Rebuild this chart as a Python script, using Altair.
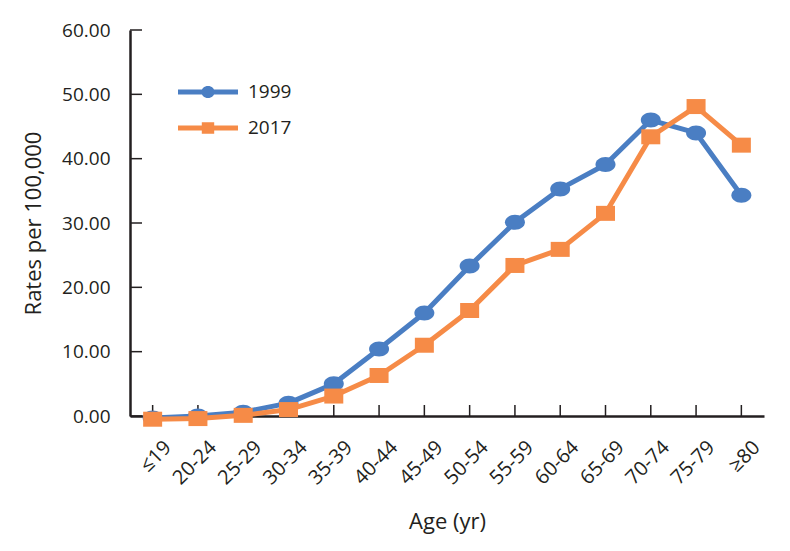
import altair as alt
import pandas as pd

ages = ["≤19", "20-24", "25-29", "30-34", "35-39", "40-44", "45-49",
        "50-54", "55-59", "60-64", "65-69", "70-74", "75-79", "≥80"]
years = ["1999", "2017"]
rates_1999 = [-0.3, 0.0, 0.6, 2.0, 5.0, 10.4, 16.0, 23.3, 30.1, 35.3, 39.1, 46.0, 44.0, 34.3]
rates_2017 = [-0.5, -0.4, 0.1, 1.0, 3.1, 6.3, 11.0, 16.4, 23.4, 25.9, 31.5, 43.4, 48.1, 42.1]
y_ticks = [0, 10, 20, 30, 40, 50, 60]

colors = ["#4A7EC3", "#F68B47"]
marker_paths = [
    "M1,0A1,0.75,0,1,1,-1,0A1,0.75,0,1,1,1,0Z",
    "M-0.95,-0.75L0.95,-0.75L0.95,0.75L-0.95,0.75Z",
]
legend_paths = [
    "M-3,-0.25L3,-0.25L3,0.25L-3,0.25Z M0.67,0A0.67,0.6,0,1,1,-0.67,0A0.67,0.6,0,1,1,0.67,0Z",
    "M-3,-0.25L3,-0.25L3,0.25L-3,0.25Z M-0.62,-0.58L0.62,-0.58L0.62,0.58L-0.62,0.58Z",
]

rows = []
for yr, vals in zip(years, [rates_1999, rates_2017]):
    for a, v in zip(ages, vals):
        rows.append({"age": a, "year": yr, "rate": v})
df = pd.DataFrame(rows)
tick_df = pd.DataFrame({"rate": y_ticks})
age_df = pd.DataFrame({"age": ages})

W, H = 634, 386
FONT = "Open Sans"
TXT = "#231F20"

xs = alt.Scale(type="point", domain=ages, padding=0.5)
ys = alt.Scale(domain=[0, 60], nice=False, zero=False)

x_axis = alt.Axis(title="Age (yr)", labelAngle=-45, labelAlign="right",
                  labelBaseline="middle", ticks=False, labelPadding=28,
                  labelOffset=15, labelFontSize=20, titleFontSize=22,
                  titlePadding=24)
y_axis = alt.Axis(title="Rates per 100,000", values=y_ticks, format=".2f",
                  ticks=False, labelPadding=20, labelFontSize=19,
                  titleFontSize=22, titlePadding=16)

layers = []
for i, yr in enumerate(years):
    base = alt.Chart(df).transform_filter(alt.datum.year == yr)
    layers.append(base.mark_line(color=colors[i], strokeWidth=5, strokeJoin="round").encode(
        x=alt.X("age:N", scale=xs, axis=x_axis),
        y=alt.Y("rate:Q", scale=ys, axis=y_axis),
    ))
    layers.append(base.mark_point(filled=True, opacity=1, color=colors[i],
                                  shape=marker_paths[i], size=400, strokeWidth=0).encode(
        x=alt.X("age:N", scale=xs, axis=x_axis),
        y=alt.Y("rate:Q", scale=ys, axis=y_axis),
    ))

legend = alt.Legend(title=None, orient="none", legendX=68, legendY=52,
                    symbolSize=400, symbolStrokeWidth=0, labelFontSize=19,
                    labelFont=FONT, labelColor=TXT, labelOffset=30,
                    rowPadding=16, padding=0)
legend_layer = alt.Chart(df).transform_filter("false").mark_point(
    filled=True, opacity=1, strokeWidth=0).encode(
    x=alt.X("age:N", scale=xs, axis=x_axis),
    y=alt.Y("rate:Q", scale=ys, axis=y_axis),
    color=alt.Color("year:N", scale=alt.Scale(domain=years, range=colors), legend=legend),
    shape=alt.Shape("year:N", scale=alt.Scale(domain=years, range=legend_paths), legend=legend),
)
layers.append(legend_layer)

ytick_layer = alt.Chart(tick_df).mark_rule(color=TXT, strokeWidth=1.5).encode(
    y=alt.Y("rate:Q", scale=ys, axis=y_axis),
    x=alt.value(0), x2=alt.value(12),
)
xtick_layer = alt.Chart(age_df).mark_rule(color=TXT, strokeWidth=1.5).encode(
    x=alt.X("age:N", scale=xs, axis=x_axis),
    y=alt.value(H - 11), y2=alt.value(H),
)

chart = alt.layer(ytick_layer, xtick_layer, *layers).properties(
    width=W, height=H,
    padding={"left": 14, "top": 13, "right": 5, "bottom": 5},
).configure_view(stroke=None).configure_axis(
    labelFont=FONT, titleFont=FONT, labelColor=TXT, titleColor=TXT,
    titleFontWeight="normal", domainColor=TXT, domainWidth=2.5, grid=False,
)

chart.save("out.html", embed_options={"renderer": "svg", "actions": False})
